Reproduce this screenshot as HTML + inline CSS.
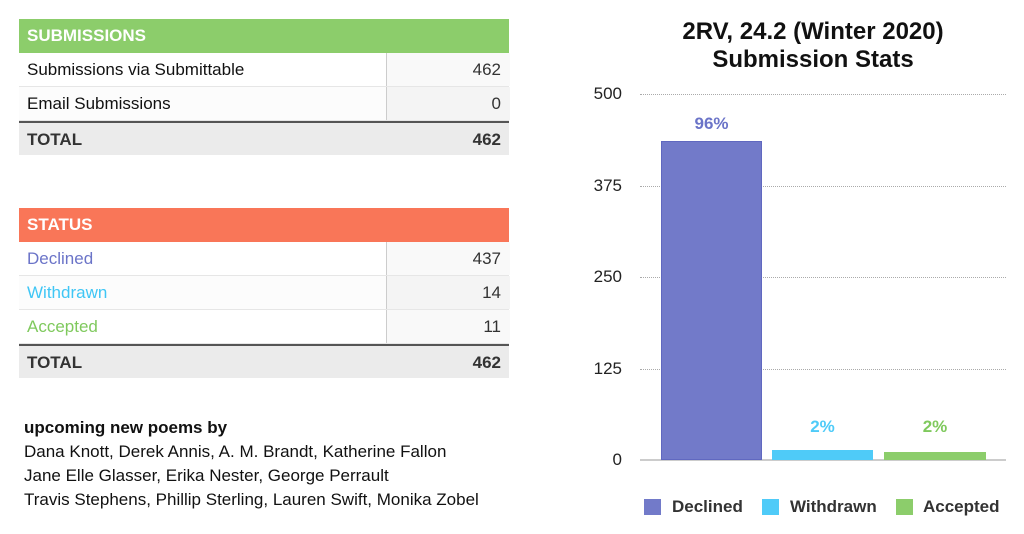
<!DOCTYPE html>
<html><head><style>
body{margin:0;width:1024px;height:534px;background:#fff;font-family:"Liberation Sans",sans-serif;position:relative;overflow:hidden}
.a{position:absolute}
.t{position:absolute;left:19px;width:490px;font-size:17px;color:#111}
.r{position:absolute;left:0;width:490px;height:34px;line-height:34px;border-bottom:1px solid #e6e6e6;box-sizing:border-box}
.r span{position:absolute;left:8px}
.r b,.r i{position:absolute;right:8px;font-style:normal}
.r i{color:#333}
.r .v{position:absolute;left:367px;top:0;width:123px;height:100%;border-left:1px solid #ccc;background:#f9f9f9}
.h{color:#fff;font-weight:bold;border:none}
.tot{background:#ebebeb;font-weight:bold;color:#333;border-top:2px solid #555;border-bottom:none}
.g{position:absolute;left:640px;width:366px;border-top:1px dotted #aaa;height:0}
.yl{position:absolute;left:560px;width:62px;text-align:right;font-size:17px;color:#222}
</style></head><body>
<div class="t" style="top:19px">
<div class="r h" style="top:0;background:#8ccd6b"><span>SUBMISSIONS</span></div>
<div class="r" style="top:34px"><div class="v"></div><span>Submissions via Submittable</span><i>462</i></div>
<div class="r" style="top:68px;background:#fcfcfc"><div class="v" style="background:#f4f4f4"></div><span>Email Submissions</span><i>0</i></div>
<div class="r tot" style="top:102px"><span>TOTAL</span><b>462</b></div>
</div>
<div class="t" style="top:208px">
<div class="r h" style="top:0;background:#f97658"><span>STATUS</span></div>
<div class="r" style="top:34px"><div class="v"></div><span style="color:#6b74c8">Declined</span><i>437</i></div>
<div class="r" style="top:68px;background:#fcfcfc"><div class="v" style="background:#f4f4f4"></div><span style="color:#3fc6f5">Withdrawn</span><i>14</i></div>
<div class="r" style="top:102px"><div class="v"></div><span style="color:#7fc95d">Accepted</span><i>11</i></div>
<div class="r tot" style="top:136px"><span>TOTAL</span><b>462</b></div>
</div>
<div class="a" style="left:24px;top:416px;font-size:17px;line-height:24px;color:#111;white-space:nowrap">
<b>upcoming new poems by</b><br>Dana Knott, Derek Annis, A. M. Brandt, Katherine Fallon<br>Jane Elle Glasser, Erika Nester, George Perrault<br>Travis Stephens, Phillip Sterling, Lauren Swift, Monika Zobel</div>

<div class="a" style="left:590px;top:18px;width:446px;text-align:center;font-size:24px;font-weight:bold;line-height:28px;color:#111">2RV, 24.2 (Winter 2020)<br>Submission Stats</div>
<div class="g" style="top:94px"></div><div class="g" style="top:186px"></div><div class="g" style="top:277px"></div><div class="g" style="top:369px"></div>
<div class="a" style="left:640px;top:459px;width:366px;height:2px;background:#ccc"></div>
<div class="yl" style="top:84px">500</div><div class="yl" style="top:176px">375</div><div class="yl" style="top:267px">250</div><div class="yl" style="top:359px">125</div><div class="yl" style="top:450px">0</div>
<div class="a" style="left:661px;top:141px;width:101px;height:319px;background:#727ac9;box-sizing:border-box;border:1px solid #6068c0"></div>
<div class="a" style="left:772px;top:450px;width:101px;height:10px;background:#4fcbf8"></div>
<div class="a" style="left:884px;top:452px;width:102px;height:8px;background:#8ccd6b"></div>
<div class="a" style="left:661px;top:114px;width:101px;text-align:center;font-size:17px;font-weight:bold;color:#6b74c8">96%</div>
<div class="a" style="left:772px;top:417px;width:101px;text-align:center;font-size:17px;font-weight:bold;color:#4fcbf8">2%</div>
<div class="a" style="left:884px;top:417px;width:102px;text-align:center;font-size:17px;font-weight:bold;color:#7fc95d">2%</div>
<div class="a" style="left:644px;top:499px;width:17px;height:16px;background:#727ac9"></div>
<div class="a" style="left:672px;top:497px;font-size:17px;font-weight:bold;color:#333">Declined</div>
<div class="a" style="left:762px;top:499px;width:17px;height:16px;background:#4fcbf8"></div>
<div class="a" style="left:790px;top:497px;font-size:17px;font-weight:bold;color:#333">Withdrawn</div>
<div class="a" style="left:896px;top:499px;width:17px;height:16px;background:#8ccd6b"></div>
<div class="a" style="left:923px;top:497px;font-size:17px;font-weight:bold;color:#333">Accepted</div>
</body></html>
